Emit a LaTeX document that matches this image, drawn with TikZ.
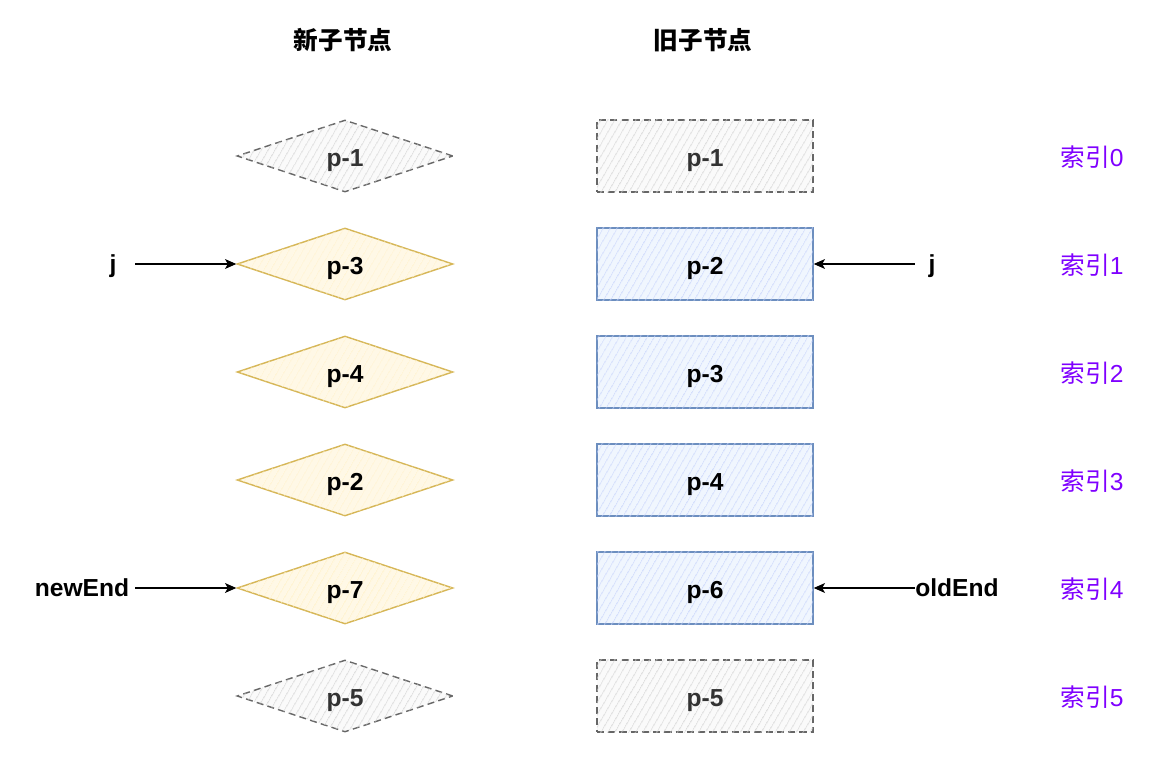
\documentclass[tikz,border=0pt]{standalone}
\usepackage{fontspec}
\setmainfont{Liberation Sans}
\newfontfamily\cjk{Noto Sans CJK SC}
\usetikzlibrary{positioning}
\usetikzlibrary{arrows.meta,shapes,patterns.meta}

\definecolor{grayline}{HTML}{666666}
\definecolor{grayfill}{HTML}{F5F5F5}
\definecolor{goldline}{HTML}{D6B656}
\definecolor{goldfill}{HTML}{FFF2CC}
\definecolor{blueline}{HTML}{6C8EBF}
\definecolor{bluefill}{HTML}{DAE8FC}
\definecolor{idxcolor}{HTML}{7F00FF}
\definecolor{darktext}{HTML}{333333}

\begin{document}
\begin{tikzpicture}[x=0.025cm, y=-0.025cm, font=\fontsize{17.5}{20}\selectfont,
  diamondbox/.style={diamond, minimum width=5.4cm, minimum height=1.8cm, inner sep=0pt, text height=18pt, text depth=3.7pt, font=\fontsize{17.5}{20}\selectfont\bfseries},
  rectbox/.style={rectangle, minimum width=5.4cm, minimum height=1.8cm, inner sep=0pt, text height=18pt, text depth=3.7pt, font=\fontsize{17.5}{20}\selectfont\bfseries},
  hatch/.style={postaction={pattern={Lines[angle=60,distance=4pt,line width=0.5pt]}, pattern color=#1}},
  gonebox/.style={draw=grayline, fill=grayfill!50!white, hatch=grayfill!85!black, dash pattern=on 5pt off 3pt, line width=1pt, text=darktext},
  newbox/.style={draw=goldline, fill=goldfill!50!white, hatch=goldfill, line width=1pt},
  oldbox/.style={draw=blueline, fill=bluefill!40!white, hatch=bluefill!90!blue, line width=1pt},
  ptr/.style={inner sep=0pt, font=\fontsize{17.5}{20}\selectfont\bfseries},
  link/.style={-{Stealth[length=8pt,width=7pt,inset=2pt]}, line width=0.8pt}]

  \useasboundingbox (0,0) rectangle (1156,774);
  \def\d{108}

  %headings
  \node (newhead) at (343,40) {\cjk\bfseries 新子节点};
  \node (oldhead) at (703,40) {\cjk\bfseries 旧子节点};

  %new children
  \foreach \i/\num in {0/1,5/5}{
    \node[diamondbox,gonebox] (n\i) at (345,156+\i*\d) {p-\num};
  }
  \foreach \i/\num in {1/3,2/4,3/2,4/7}{
    \node[diamondbox,newbox] (n\i) at (345,156+\i*\d) {p-\num};
  }

  %old children
  \foreach \i/\num in {0/1,5/5}{
    \node[rectbox,gonebox] (o\i) at (705,156+\i*\d) {p-\num};
  }
  \foreach \i/\num in {1/2,2/3,3/4,4/6}{
    \node[rectbox,oldbox] (o\i) at (705,156+\i*\d) {p-\num};
  }

  %index
  \foreach \i in {0,...,5}{
    \node[text=idxcolor] (idx\i) at (1092,157+\i*\d) {{\cjk 索引}\i};
  }

  %pointers
  \node[ptr, minimum width=1.1cm] (jnew) at (113,266) {j};
  \node[ptr, minimum width=2.65cm] (newend) at (82,588) {newEnd};
  \node[ptr, minimum width=0.85cm] (jold) at (932,266) {j};
  \node[ptr, minimum width=2.1cm] (oldend) at (957,588) {oldEnd};

  \draw[link] (jnew.east |- n1) -- (n1);
  \draw[link] (newend) -- (n4);
  \draw[link] (jold.west |- o1) -- (o1);
  \draw[link] (oldend) -- (o4);

\end{tikzpicture}
\end{document}
